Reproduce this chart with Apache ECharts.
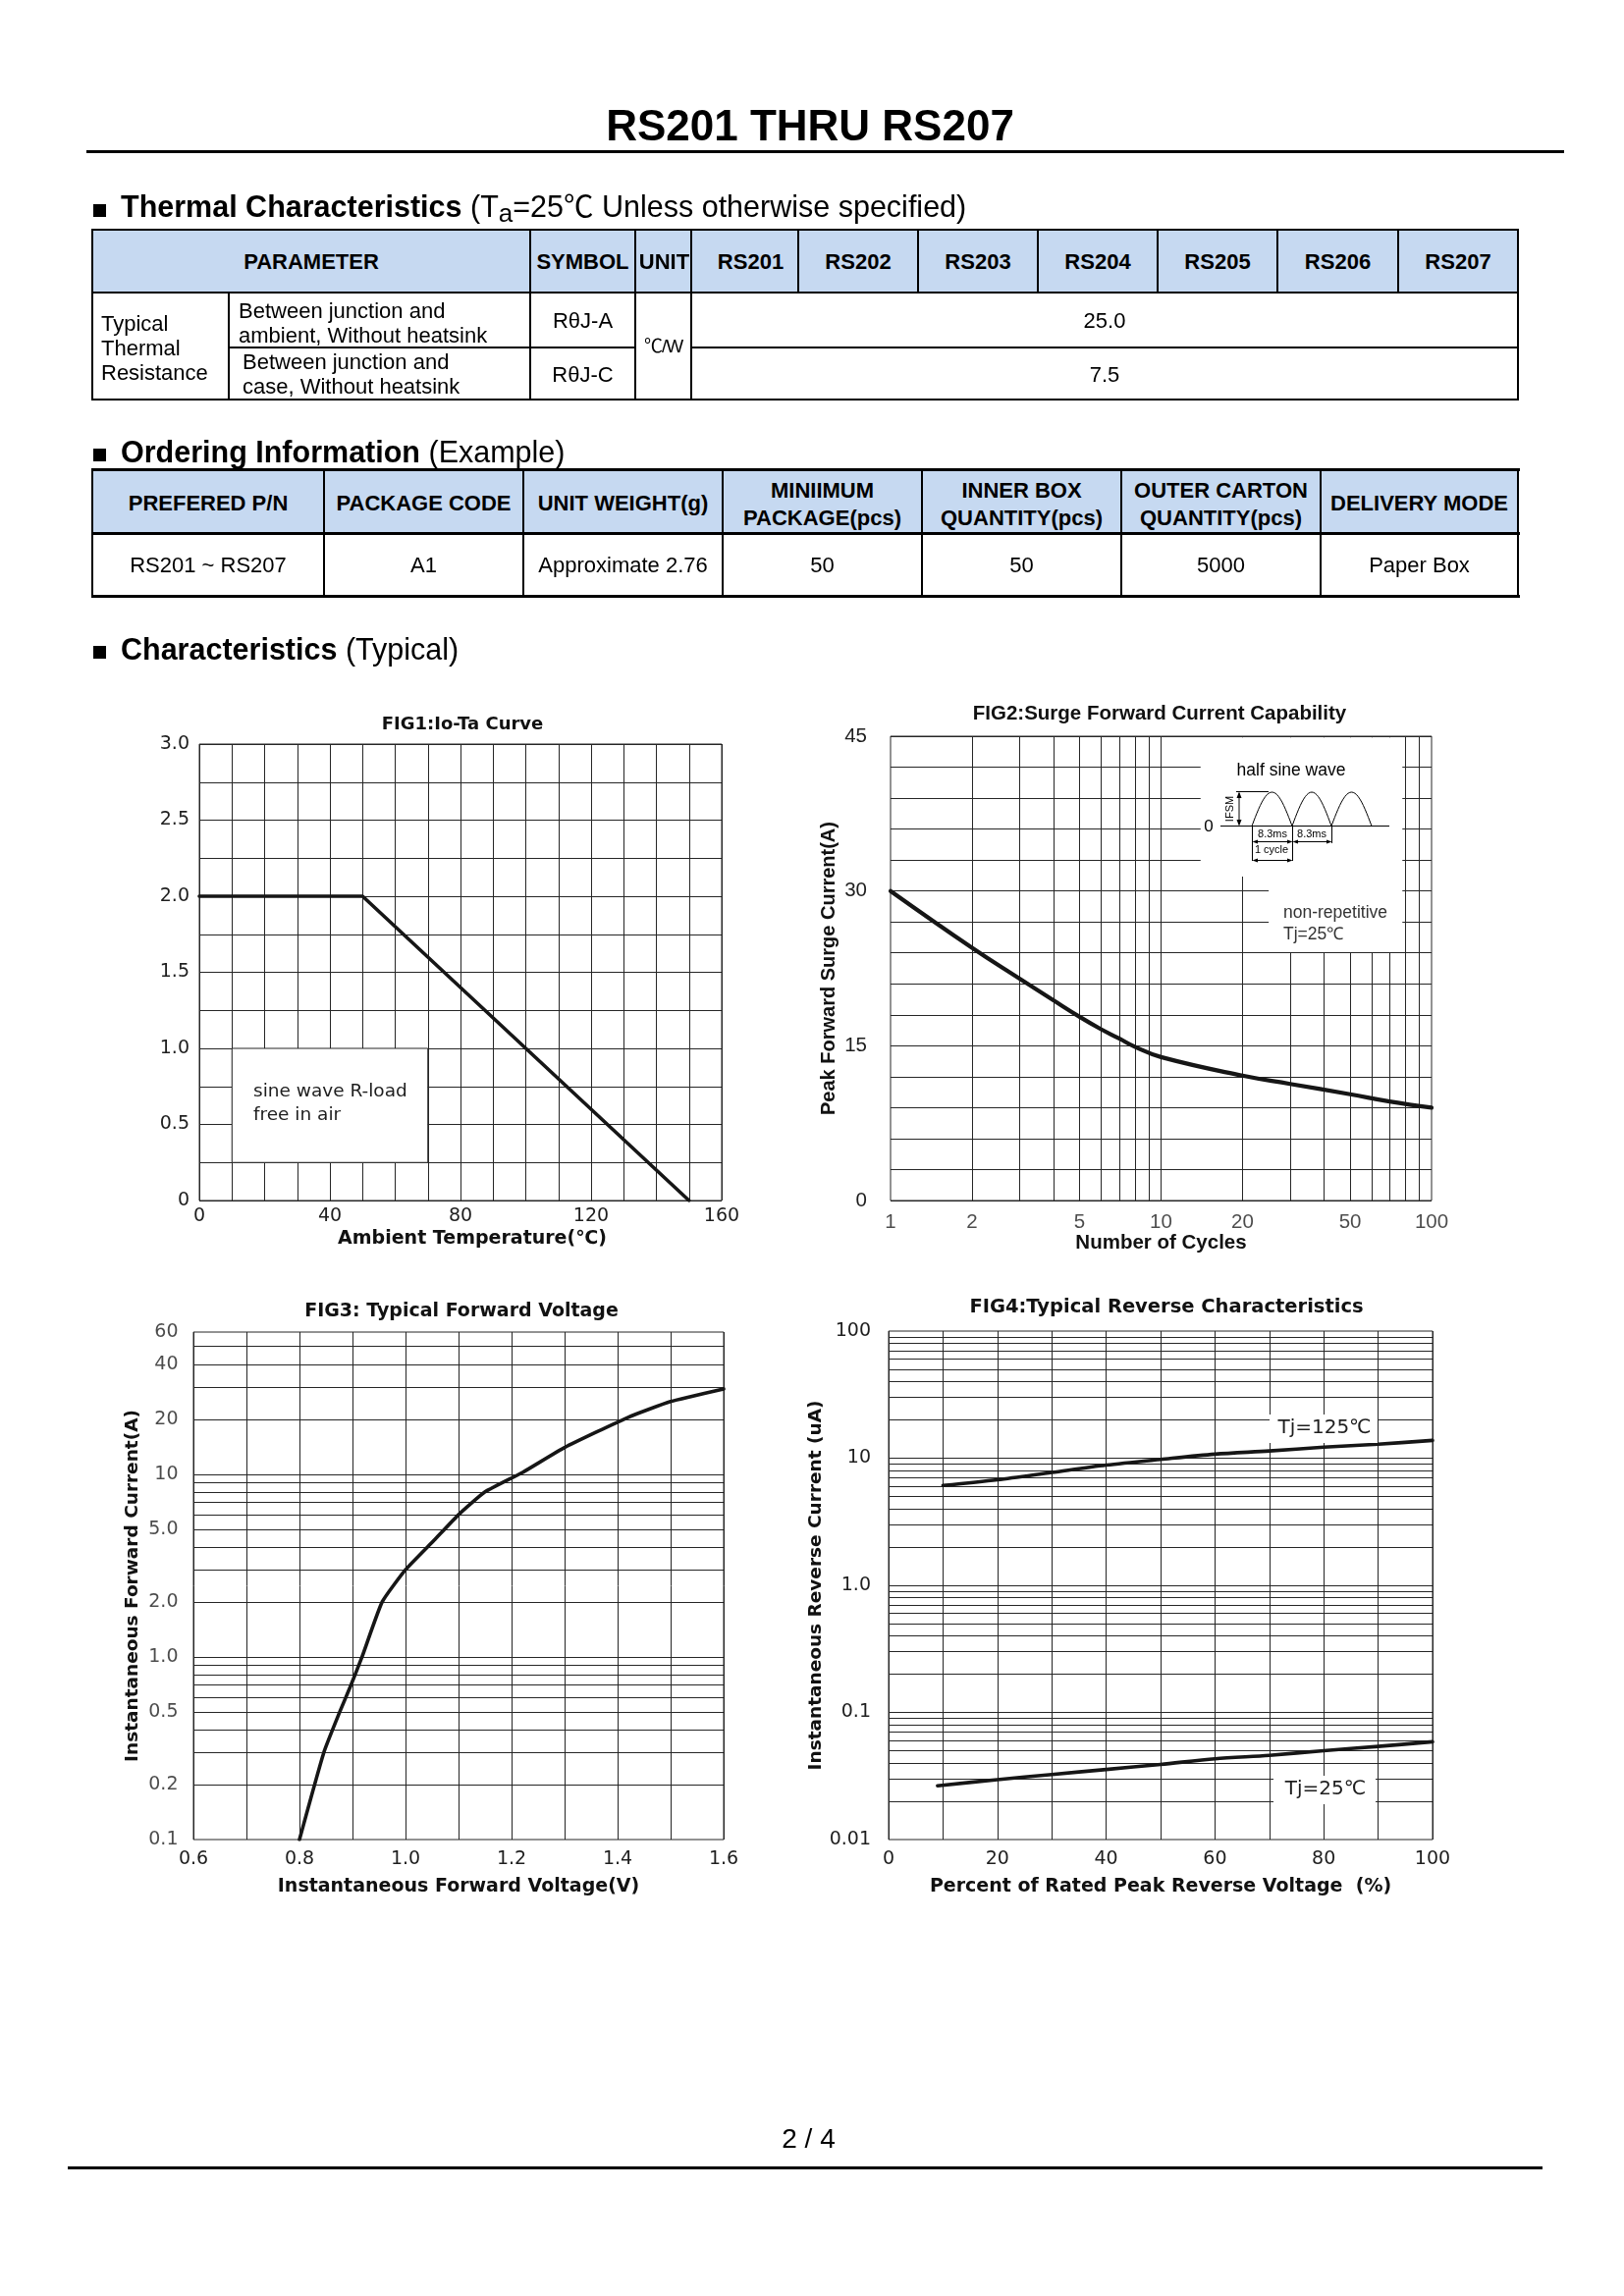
<!DOCTYPE html>
<html><head><meta charset="utf-8">
<script src="https://cdn.jsdelivr.net/npm/echarts@6/dist/echarts.min.js"></script>
<style>
html,body{margin:0;padding:0;background:#fff;}
#page{position:relative;width:1654px;height:2339px;background:#fff;overflow:hidden;
  font-family:"Liberation Sans",Arial,"Noto Sans CJK SC",sans-serif;color:#000;}
.t{position:absolute;white-space:nowrap;}
#chart{position:absolute;left:0;top:0;width:1654px;height:2339px;}
</style></head>
<body><div id="page"><div id="chart"></div></div>
<script>
// ================= DATA =================
const pageTitle = 'RS201 THRU RS207';
const pageNumber = '2 / 4';

const thermalModels = ['RS201','RS202','RS203','RS204','RS205','RS206','RS207'];
const thermalHeader = ['PARAMETER','SYMBOL','UNIT'];
const thermalGroup = ['Typical','Thermal','Resistance'];
const thermalParams = [['Between junction and','ambient, Without heatsink'],['Between junction and','case, Without heatsink']];
const thermalSymbols = ['R\u03b8J-A','R\u03b8J-C'];
const thermalUnit = '\u2103/W';
const thermalValues = ['25.0','7.5'];

const orderHeaders = [['PREFERED P/N'],['PACKAGE CODE'],['UNIT WEIGHT(g)'],['MINIIMUM','PACKAGE(pcs)'],['INNER BOX','QUANTITY(pcs)'],['OUTER CARTON','QUANTITY(pcs)'],['DELIVERY MODE']];
const orderValues = ['RS201 ~ RS207','A1','Approximate 2.76','50','50','5000','Paper Box'];

// FIG1: Io-Ta
const fig1Temp = [0, 50, 150];
const fig1Current = [2.0, 2.0, 0];
const fig1XTickLabels = [0, 40, 80, 120, 160];
const fig1YTickLabels = [0, 0.5, 1.0, 1.5, 2.0, 2.5, 3.0];

// FIG2: surge current
const fig2Cycles  = [1, 2, 3, 4, 5, 6, 7, 8, 10, 20, 30, 50, 70, 100];
const fig2Current = [30.0, 24.5, 21.5, 19.4, 17.8, 16.6, 15.7, 14.9, 13.9, 12.1, 11.3, 10.3, 9.6, 9.0];
const fig2XTickLabels = [1, 2, 5, 10, 20, 50, 100];
const fig2YTickLabels = [0, 15, 30, 45];
const fig2GridX = [2, 3, 4, 5, 6, 7, 8, 9, 10, 20, 30, 40, 50, 60, 70, 80, 90];

// FIG3: forward voltage
const fig3Voltage = [0.80, 0.846, 0.876, 0.897, 0.918, 0.956, 1.00, 1.054, 1.10, 1.15, 1.22, 1.30, 1.42, 1.50, 1.60];
const fig3Current = [0.1, 0.3, 0.5, 0.7, 1.0, 2.0, 3.0, 4.35, 6.0, 8.0, 10.2, 14, 20.5, 25, 29.3];
const fig3XTickLabels = [0.6, 0.8, 1.0, 1.2, 1.4, 1.6];
const fig3YTickValues = [0.1, 0.2, 0.5, 1, 2, 5, 10, 20, 40, 60];
const fig3YTickLabels = ['0.1', '0.2', '0.5', '1.0', '2.0', '5.0', '10', '20', '40', '60'];
const fig3GridY = [0.2, 0.3, 0.4, 0.5, 0.6, 0.7, 0.8, 0.9, 1, 2, 3, 4, 5, 6, 7, 8, 9, 10, 20, 30, 40, 50];

// FIG4: reverse characteristics
const fig4Percent125 = [10, 20, 30, 40, 50, 60, 70, 80, 90, 100];
const fig4Tj125      = [6.1, 6.77, 7.73, 8.82, 9.78, 10.76, 11.4, 12.2, 12.9, 13.8];
const fig4Percent25  = [9, 20, 30, 40, 50, 60, 70, 80, 90, 100];
const fig4Tj25       = [0.0265, 0.0296, 0.0325, 0.0356, 0.039, 0.0432, 0.046, 0.050, 0.054, 0.0588];
const fig4XTickLabels = [0, 20, 40, 60, 80, 100];
const fig4GridY = [0.02, 0.03, 0.04, 0.05, 0.06, 0.07, 0.08, 0.09, 0.1,
                   0.2, 0.3, 0.4, 0.5, 0.6, 0.7, 0.8, 0.9, 1,
                   2, 3, 4, 5, 6, 7, 8, 9, 10,
                   20, 30, 40, 50, 60, 70, 80, 90];

// ================= HTML PARTS =================
const page = document.getElementById('page');
function box(x, y, w, h, color) {
  const d = document.createElement('div');
  d.style.cssText = `position:absolute;left:${x}px;top:${y}px;width:${w}px;height:${h}px;background:${color};`;
  page.appendChild(d); return d;
}
function hl(x1, x2, y, w) { box(x1 - w / 2, y - w / 2, x2 - x1 + w, w, '#000'); }
function vl(x, y1, y2, w) { box(x - w / 2, y1 - w / 2, w, y2 - y1 + w, '#000'); }
function text(html, x, y, o) {
  o = o || {};
  const size = o.size || 22;
  const d = document.createElement('div');
  d.className = 't';
  d.innerHTML = html;
  d.style.left = x + 'px'; d.style.top = y + 'px';
  d.style.fontSize = size + 'px';
  d.style.lineHeight = (o.lh || Math.round(size * 1.15)) + 'px';
  if (o.bold) d.style.fontWeight = 'bold';
  if (o.ls) d.style.letterSpacing = o.ls + 'px';
  const al = o.align || 'center';
  d.style.textAlign = al;
  const tx = al === 'left' ? '0' : (al === 'right' ? '-100%' : '-50%');
  d.style.transform = `translate(${tx},-50%)`;
  page.appendChild(d); return d;
}

// Title
text(pageTitle, 825, 127, {size: 44, bold: true});
hl(89, 1591, 154, 3);

// Section headings
box(95, 208, 13, 13, '#000');
text('<b>Thermal Characteristics</b> (T<span style="font-size:26px;position:relative;top:5px">a</span>=25\u2103 Unless otherwise specified)', 123, 210.5, {size: 30.5, align: 'left'});
box(95, 457, 13, 13, '#000');
text('<b>Ordering Information</b> (Example)', 123, 459.5, {size: 30.5, align: 'left'});
box(95, 658, 13, 13, '#000');
text('<b>Characteristics</b> (Typical)', 123, 660.5, {size: 30.5, align: 'left'});

// Table 1
(function () {
  const c = [94, 233, 540, 647, 704, 813, 935, 1057, 1179, 1301, 1424, 1546];
  const r = [234, 298, 354, 407];
  box(c[0], r[0], c[11] - c[0], r[1] - r[0], '#C6D9F1');
  hl(c[0], c[11], r[0], 2); hl(c[0], c[11], r[1], 2); hl(c[0], c[11], r[3], 2);
  hl(c[1], c[3], r[2], 2); hl(c[4], c[11], r[2], 2);
  vl(c[0], r[0], r[3], 2); vl(c[11], r[0], r[3], 2);
  vl(c[1], r[1], r[3], 2);
  vl(c[2], r[0], r[3], 2); vl(c[3], r[0], r[3], 2); vl(c[4], r[0], r[3], 2);
  for (let i = 5; i <= 10; i++) vl(c[i], r[0], r[1], 2);
  const hy = 266;
  text(thermalHeader[0], (c[0] + c[2]) / 2, hy, {bold: true});
  text(thermalHeader[1], (c[2] + c[3]) / 2, hy, {bold: true});
  text(thermalHeader[2], (c[3] + c[4]) / 2 + 1, hy, {bold: true});
  thermalModels.forEach((m, i) => text(m, (c[5 + i] + c[4 + i]) / 2 + (i === 0 ? 6 : 0), hy, {bold: true}));
  text(thermalGroup.join('<br>'), 103, 354, {align: 'left', lh: 25});
  text(thermalParams[0].join('<br>'), 243, 328.5, {align: 'left', lh: 25});
  text(thermalParams[1].join('<br>'), 247, 380.5, {align: 'left', lh: 25});
  text(thermalSymbols[0], (c[2] + c[3]) / 2, 326);
  text(thermalSymbols[1], (c[2] + c[3]) / 2, 381);
  text(thermalUnit, (c[3] + c[4]) / 2, 353, {size: 19, ls: -1});
  text(thermalValues[0], (c[4] + c[11]) / 2, 326);
  text(thermalValues[1], (c[4] + c[11]) / 2, 381);
})();

// Table 2
(function () {
  const c = [94, 330, 533, 736, 939, 1142, 1345, 1546];
  const r = [478, 543, 607];
  box(c[0], r[0], c[7] - c[0], r[1] - r[0], '#C6D9F1');
  hl(c[0], c[7], r[0], 3); hl(c[0], c[7], r[1], 3); hl(c[0], c[7], r[2], 3);
  c.forEach(x => vl(x, r[0], r[2], 2));
  orderHeaders.forEach((h, i) => {
    const cx = (c[i] + c[i + 1]) / 2;
    text(h.join('<br>'), cx, h.length > 1 ? 514 : 513, {bold: true, lh: 28});
    text(orderValues[i], cx, 575);
  });
})();

// Footer
text(pageNumber, 823.5, 2179, {size: 28});
hl(70, 1569, 2208.5, 3);

// ================= CHARTS =================
const DJ = 'DejaVu Sans';
const LS = 'Liberation Sans';
const GRID_C = '#262626';
const CURVE_C = '#161616';
const LABEL_C = '#1e1e1e';

function near(list, v) { return list.some(t => Math.abs(t - v) < 1e-6); }
function zip(a, b) { return a.map((x, i) => [x, b[i]]); }
function gridBox(left, top, width, height) {
  return {left, top, width, height, show: true, borderColor: GRID_C, borderWidth: 1, backgroundColor: 'transparent'};
}
function gridLines(xi, key, values) {
  return {type: 'line', xAxisIndex: xi, yAxisIndex: xi, data: [], z: 1, silent: true,
    markLine: {z: 1, silent: true, animation: false, symbol: ['none', 'none'], label: {show: false},
      emphasis: {disabled: true},
      lineStyle: {color: GRID_C, width: 1, type: 'solid', opacity: 1},
      data: values.map(v => ({[key]: v}))}};
}
function tickLabels(xi, points, texts, pos, dist, font, size) {
  return {type: 'scatter', xAxisIndex: xi, yAxisIndex: xi, z: 3, silent: true, symbolSize: 1,
    itemStyle: {color: 'rgba(0,0,0,0)'}, clip: false,
    data: points.map((p, i) => ({value: p, label: {formatter: texts[i]}})),
    label: {show: true, position: pos, distance: dist, color: LABEL_C, fontFamily: font, fontSize: size}};
}
function curve(xi, data, width, smooth) {
  return {type: 'line', xAxisIndex: xi, yAxisIndex: xi, data, z: 5, silent: true,
    showSymbol: false, symbol: 'none', smooth: smooth,
    lineStyle: {color: CURVE_C, width: width, cap: 'round', join: 'round'}};
}
function axisName(font, size) {
  return {fontFamily: font, fontWeight: 'bold', fontSize: size, color: '#111'};
}
const noLine = {show: false};
const split = {show: true, lineStyle: {color: GRID_C, width: 1, type: 'solid'}};

const xAxes = [
  {gridIndex: 0, type: 'value', min: 0, max: 160, interval: 10, axisLine: noLine, axisTick: noLine, splitLine: split,
    axisLabel: {margin: 7, fontFamily: DJ, fontSize: 19, color: LABEL_C, formatter: v => near(fig1XTickLabels, v) ? String(v) : ''},
    name: 'Ambient Temperature(\u2103)', nameLocation: 'middle', nameGap: 30,
    nameTextStyle: Object.assign(axisName(DJ, 19), {padding: [0, 0, 0, 24]})},
  {gridIndex: 1, type: 'log', logBase: 10, min: 1, max: 100, axisLine: noLine, axisTick: noLine,
    splitLine: {show: false}, axisLabel: {show: false},
    name: 'Number of Cycles', nameLocation: 'middle', nameGap: 33, nameTextStyle: axisName(LS, 20.5)},
  {gridIndex: 2, type: 'value', min: 0.6, max: 1.6, interval: 0.1, axisLine: noLine, axisTick: noLine, splitLine: split,
    axisLabel: {margin: 11, fontFamily: DJ, fontSize: 19, color: LABEL_C, formatter: v => near(fig3XTickLabels, v) ? v.toFixed(1) : ''},
    name: 'Instantaneous Forward Voltage(V)', nameLocation: 'middle', nameGap: 39, nameTextStyle: axisName(DJ, 19)},
  {gridIndex: 3, type: 'value', min: 0, max: 100, interval: 10, axisLine: noLine, axisTick: noLine, splitLine: split,
    axisLabel: {margin: 11, fontFamily: DJ, fontSize: 19, color: LABEL_C, formatter: v => near(fig4XTickLabels, v) ? String(v) : ''},
    name: 'Percent of Rated Peak Reverse Voltage  (%)', nameLocation: 'middle', nameGap: 39, nameTextStyle: axisName(DJ, 19)}
];
const yAxes = [
  {gridIndex: 0, type: 'value', min: 0, max: 3, interval: 0.25, axisLine: noLine, axisTick: noLine, splitLine: split,
    axisLabel: {margin: 10, fontFamily: DJ, fontSize: 19, color: LABEL_C,
      formatter: v => near(fig1YTickLabels, v) ? (v === 0 ? '0' : v.toFixed(1)) : ''}},
  {gridIndex: 1, type: 'value', min: 0, max: 45, interval: 3, axisLine: noLine, axisTick: noLine, splitLine: split,
    axisLabel: {margin: 24, fontFamily: LS, fontSize: 20.5, color: LABEL_C, formatter: v => near(fig2YTickLabels, v) ? String(v) : ''},
    name: 'Peak Forward Surge Current(A)', nameLocation: 'middle', nameGap: 53, nameTextStyle: axisName(LS, 20)},
  {gridIndex: 2, type: 'log', logBase: 10, min: 0.1, max: 60, axisLine: noLine, axisTick: noLine,
    splitLine: {show: false}, axisLabel: {show: false},
    name: 'Instantaneous Forward Current(A)', nameLocation: 'middle', nameGap: 52, nameTextStyle: axisName(DJ, 18.5)},
  {gridIndex: 3, type: 'log', logBase: 10, min: 0.01, max: 100, axisLine: noLine, axisTick: noLine,
    splitLine: {show: false},
    axisLabel: {margin: 18, fontFamily: DJ, fontSize: 19, color: LABEL_C,
      formatter: v => v === 1 ? '1.0' : String(+Number(v).toPrecision(3))},
    name: 'Instantaneous Reverse Current (uA)', nameLocation: 'middle', nameGap: 57, nameTextStyle: axisName(DJ, 18.5)}
];

const series = [
  // FIG1
  {type: 'line', xAxisIndex: 0, yAxisIndex: 0, data: [], z: 3, silent: true,
    markArea: {z: 3, silent: true, label: {show: false},
      itemStyle: {color: '#ffffff', borderColor: GRID_C, borderWidth: 1},
      data: [[{coord: [10, 0.25]}, {coord: [70, 1.0]}]]}},
  curve(0, zip(fig1Temp, fig1Current), 3.6, false),
  // FIG2
  gridLines(1, 'xAxis', fig2GridX),
  tickLabels(1, fig2XTickLabels.map(v => [v, 0]), fig2XTickLabels.map(String), 'bottom', 11, LS, 20.5),
  {type: 'line', xAxisIndex: 1, yAxisIndex: 1, data: [], z: 3, silent: true,
    markArea: {z: 3, silent: true, label: {show: false}, itemStyle: {color: '#ffffff', borderWidth: 0},
      data: [[{coord: [14, 31.4]}, {coord: [78, 44.88]}],
             [{coord: [25, 24.06]}, {coord: [78, 31.5]}]]}},
  curve(1, zip(fig2Cycles, fig2Current), 4.2, 0.45),
  // FIG3
  gridLines(2, 'yAxis', fig3GridY),
  tickLabels(2, fig3YTickValues.map(v => [0.6, v]), fig3YTickLabels, 'left', 15, DJ, 19),
  curve(2, zip(fig3Voltage, fig3Current), 3.6, 0.15),
  // FIG4
  gridLines(3, 'yAxis', fig4GridY),
  curve(3, zip(fig4Percent125, fig4Tj125), 3.6, 0.3),
  curve(3, zip(fig4Percent25, fig4Tj25), 3.6, 0.3)
];

// ---- decorations (titles, notes, inset sketch) ----
function gText(str, x, y, font, opt) {
  opt = opt || {};
  return {type: 'text', x, y, z: 100, silent: true, rotation: opt.rotation || 0,
    style: {text: str, font: font, fill: opt.fill || '#111',
      align: opt.align || 'center', textAlign: opt.align || 'center',
      verticalAlign: 'middle', textVerticalAlign: 'middle'}};
}
function gLine(x1, y1, x2, y2, w) {
  return {type: 'line', z: 100, silent: true, shape: {x1, y1, x2, y2}, style: {stroke: '#000', lineWidth: w || 1}};
}
function gTri(points) {
  return {type: 'polygon', z: 100, silent: true, shape: {points}, style: {fill: '#000'}};
}
function gRect(x, y, w, h) {
  return {type: 'rect', z: 99, silent: true, shape: {x, y, width: w, height: h}, style: {fill: '#fff'}};
}
function halfSine(x0, w, base, h) {
  const pts = [];
  for (let i = 0; i <= 24; i++) pts.push([x0 + w * i / 24, base - h * Math.sin(Math.PI * i / 24)]);
  return {type: 'polyline', z: 100, silent: true, shape: {points: pts}, style: {stroke: '#000', lineWidth: 1, fill: null}};
}
const sm = '11px "Liberation Sans"';
const graphics = [
  gText('FIG1:Io-Ta Curve', 471, 738, 'bold 18px "DejaVu Sans"'),
  gText('FIG2:Surge Forward Current Capability', 1181, 727, 'bold 20.5px "Liberation Sans"'),
  gText('FIG3: Typical Forward Voltage', 470, 1336, 'bold 19px "DejaVu Sans"'),
  gText('FIG4:Typical Reverse Characteristics', 1188, 1332, 'bold 19.5px "DejaVu Sans"'),
  // FIG1 note
  gText('sine wave R-load', 258, 1112, '18.5px "DejaVu Sans"', {align: 'left', fill: '#1e1e1e'}),
  gText('free in air', 258, 1136, '18.5px "DejaVu Sans"', {align: 'left', fill: '#1e1e1e'}),
  // FIG2 inset
  gText('half sine wave', 1315, 785, '17.5px "Liberation Sans"', {fill: '#000'}),
  gText('0', 1231, 842, '17px "Liberation Sans"', {fill: '#000'}),
  gLine(1243, 841.5, 1415, 841.5, 1),
  halfSine(1275, 41, 841.5, 34.5),
  halfSine(1316, 40, 841.5, 34.5),
  halfSine(1356, 41, 841.5, 34.5),
  gLine(1259, 806.5, 1292, 806.5, 1),
  gLine(1262, 808, 1262, 840, 1),
  gTri([[1262, 806.5], [1259.5, 813], [1264.5, 813]]),
  gTri([[1262, 841.5], [1259.5, 835], [1264.5, 835]]),
  gText('IFSM', 1252.5, 824, sm, {rotation: Math.PI / 2, fill: '#000'}),
  gLine(1275.5, 841, 1275.5, 877, 1),
  gLine(1316.5, 841, 1316.5, 877, 1),
  gLine(1356.5, 841, 1356.5, 859, 1),
  gText('8.3ms', 1296, 849.5, sm, {fill: '#000'}),
  gText('8.3ms', 1336, 849.5, sm, {fill: '#000'}),
  gLine(1277, 857.5, 1315, 857.5, 1),
  gTri([[1275.5, 857.5], [1281, 855.5], [1281, 859.5]]),
  gTri([[1316.5, 857.5], [1311, 855.5], [1311, 859.5]]),
  gLine(1318, 857.5, 1355, 857.5, 1),
  gTri([[1316.5, 857.5], [1322, 855.5], [1322, 859.5]]),
  gTri([[1356.5, 857.5], [1351, 855.5], [1351, 859.5]]),
  gText('1 cycle', 1295, 866, sm, {fill: '#000'}),
  gLine(1277, 876.5, 1315, 876.5, 1),
  gTri([[1275.5, 876.5], [1281, 874.5], [1281, 878.5]]),
  gTri([[1316.5, 876.5], [1311, 874.5], [1311, 878.5]]),
  gText('non-repetitive', 1307, 930, '17.5px "Liberation Sans"', {align: 'left', fill: '#333'}),
  gText('Tj=25\u2103', 1307, 952, '17.5px "Liberation Sans"', {align: 'left', fill: '#333'}),
  // FIG4 curve labels
  gRect(1293, 1441, 110, 29),
  gText('Tj=125\u2103', 1349, 1455, '20px "DejaVu Sans"', {fill: '#1e1e1e'}),
  gRect(1297, 1809, 104, 29),
  gText('Tj=25\u2103', 1350, 1823, '20px "DejaVu Sans"', {fill: '#1e1e1e'})
];

const chart = echarts.init(document.getElementById('chart'), null, {renderer: 'canvas'});
chart.setOption({
  animation: false,
  backgroundColor: 'transparent',
  textStyle: {fontFamily: DJ},
  grid: [gridBox(203, 758, 532, 465), gridBox(907, 750, 551, 473), gridBox(197, 1357, 540, 517), gridBox(905, 1356, 554, 518)],
  xAxis: xAxes,
  yAxis: yAxes,
  series: series,
  graphic: graphics
});
</script>
</body></html>
